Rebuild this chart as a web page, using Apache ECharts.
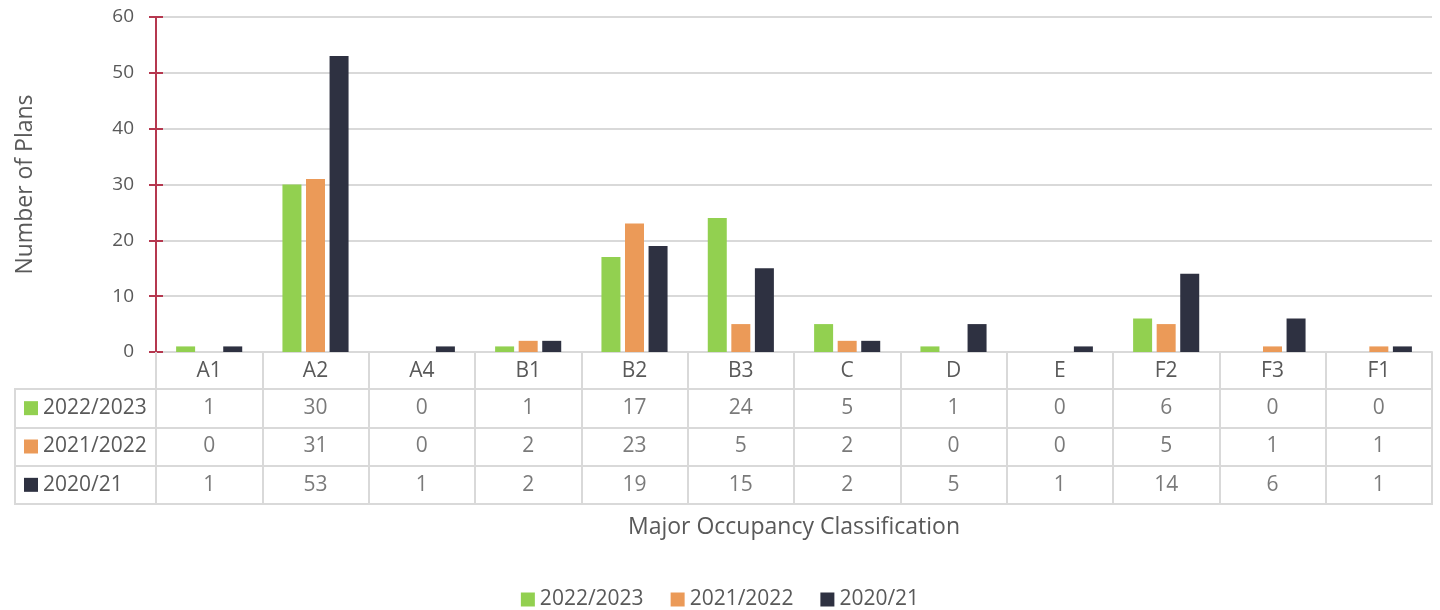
<!DOCTYPE html>
<html>
<head>
<meta charset="utf-8">
<script src="https://cdn.jsdelivr.net/npm/echarts@6/dist/echarts.min.js"></script>
<style>
  html, body { margin: 0; padding: 0; background: #fff; }
  #chart { width: 1440px; height: 610px; }
</style>
</head>
<body>
<div id="chart"></div>
<script>
// categories + values
const categories = ['A1', 'A2', 'A4', 'B1', 'B2', 'B3', 'C', 'D', 'E', 'F2', 'F3', 'F1'];
const seriesNames = ['2022/2023', '2021/2022', '2020/21'];
const plans2022 = [1, 30, 0, 1, 17, 24, 5, 1, 0, 6, 0, 0];
const plans2021 = [0, 31, 0, 2, 23, 5, 2, 0, 0, 5, 1, 1];
const plans2020 = [1, 53, 1, 2, 19, 15, 2, 5, 1, 14, 6, 1];
const yTicks = [0, 10, 20, 30, 40, 50, 60];

const colors = ['#92D050', '#EB9A58', '#2E3141'];
const textColor = '#595959';
const gridColor = '#D9D9D9';
const axisRed = '#B5384F';
const font = 'Open Sans';

const allValues = [plans2022, plans2021, plans2020];

// table cells: [category index, row index, value]
let cells = [];
allValues.forEach((arr, r) => {
    arr.forEach((v, c) => { cells.push([c, r, v]); });
});

// legend squares in the row headers
let rich = { t: { fontSize: 21, color: textColor, fontFamily: font, padding: [0, 0, 0, 5] } };
colors.forEach((c, i) => { rich['s' + i] = { width: 14, height: 14, backgroundColor: c }; });

const option = {
    textStyle: { fontFamily: font, color: textColor },
    color: colors,
    animation: false,
    legend: {
        data: seriesNames,
        left: 'center',
        top: 584,
        icon: 'rect',
        itemWidth: 14,
        itemHeight: 14,
        itemGap: 27,
        textStyle: { fontSize: 21, color: textColor, fontFamily: font }
    },
    grid: [
        { left: 156, right: 8, top: 17, height: 335 },                       // bars
        { left: 156, right: 8, top: 389, height: 115, show: true,            // value cells
          borderColor: gridColor, borderWidth: 2 },
        { left: 15, width: 141, top: 389, height: 115, show: true,           // row header box
          borderColor: gridColor, borderWidth: 2 }
    ],
    xAxis: [
        {
            type: 'category', gridIndex: 0, data: categories,
            axisLine: { lineStyle: { color: gridColor, width: 2 } },
            axisTick: { show: true, interval: 0, length: 37, lineStyle: { color: gridColor, width: 2 } },
            axisLabel: { interval: 0, margin: 9, fontSize: 21, color: textColor },
            name: 'Major Occupancy Classification',
            nameLocation: 'middle',
            nameGap: 164,
            nameTextStyle: { fontSize: 23, color: textColor }
        },
        {
            type: 'category', gridIndex: 1, data: categories,
            axisLine: { show: false }, axisTick: { show: false }, axisLabel: { show: false },
            splitLine: { show: true, interval: 0, lineStyle: { color: gridColor, width: 2 } }
        }
    ],
    yAxis: [
        {
            type: 'value', gridIndex: 0, min: 0, max: yTicks[yTicks.length - 1], interval: 10,
            axisLine: { show: true, lineStyle: { color: axisRed, width: 2 } },
            axisTick: { show: true, length: 7, lineStyle: { color: axisRed, width: 2 } },
            splitLine: { lineStyle: { color: gridColor, width: 2 } },
            axisLabel: { fontSize: 19, color: textColor, margin: 22 },
            name: 'Number of Plans',
            nameLocation: 'middle',
            nameGap: 119,
            nameTextStyle: { fontSize: 23, color: textColor }
        },
        {
            // inner half of the crossing ticks
            type: 'value', gridIndex: 0, position: 'left', min: 0, max: yTicks[yTicks.length - 1], interval: 10,
            axisLine: { show: false },
            axisTick: { show: true, inside: true, length: 7, lineStyle: { color: axisRed, width: 2 } },
            axisLabel: { show: false },
            splitLine: { show: false }
        },
        {
            type: 'category', gridIndex: 1, data: seriesNames, inverse: true,
            axisLine: { show: false },
            axisTick: { show: true, interval: 0, length: 141, lineStyle: { color: gridColor, width: 2 } },
            splitLine: { show: true, interval: 0, lineStyle: { color: gridColor, width: 2 } },
            axisLabel: {
                align: 'left', margin: 132,
                formatter: function (v) {
                    let i = seriesNames.indexOf(v);
                    return '{s' + i + '|}{t|' + v + '}';
                },
                rich: rich
            }
        }
    ],
    series: [
        {
            name: seriesNames[0], type: 'bar', xAxisIndex: 0, yAxisIndex: 0,
            data: plans2022, barWidth: 19, barGap: '24%'
        },
        {
            name: seriesNames[1], type: 'bar', xAxisIndex: 0, yAxisIndex: 0,
            data: plans2021, barWidth: 19, barGap: '24%'
        },
        {
            name: seriesNames[2], type: 'bar', xAxisIndex: 0, yAxisIndex: 0,
            data: plans2020, barWidth: 19, barGap: '24%'
        },
        {
            // the data table values
            type: 'scatter', xAxisIndex: 1, yAxisIndex: 2,
            data: cells, symbolSize: 1,
            itemStyle: { color: 'rgba(0,0,0,0)' },
            label: {
                show: true, position: 'inside', fontSize: 21, color: textColor, fontFamily: font,
                formatter: function (p) { return String(p.value[2]); }
            },
            silent: true
        }
    ]
};

let ec = echarts.init(document.getElementById('chart'));
ec.setOption(option);
</script>
</body>
</html>
